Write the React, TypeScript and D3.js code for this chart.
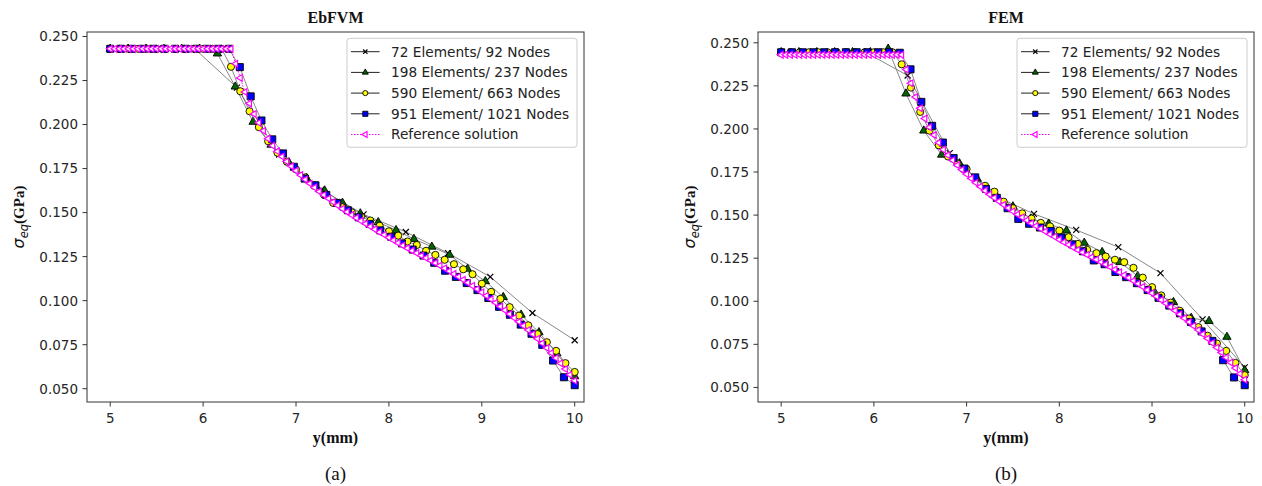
import React from "react";
import * as d3 from "d3";

const W = 1262;
const H = 486;

const xTicks = [5, 6, 7, 8, 9, 10];
const yTicks = [0.05, 0.075, 0.1, 0.125, 0.15, 0.175, 0.2, 0.225, 0.25];
const xLimits = [4.75, 10.1];
const seriesLabels = [
  "72 Elements/ 92 Nodes",
  "198 Elements/ 237 Nodes",
  "590 Element/ 663 Nodes",
  "951 Element/ 1021 Nodes",
  "Reference solution",
];

const x72 = [5, 5.455, 5.909, 6.364, 6.818, 7.273, 7.727, 8.182, 8.636, 9.091, 9.545, 10];
const ebfvm72 = [0.243, 0.243, 0.243, 0.221, 0.183, 0.163, 0.149, 0.139, 0.127, 0.1135, 0.093, 0.0775];
const fem72 = [0.2445, 0.2445, 0.2445, 0.231, 0.186, 0.162, 0.1507, 0.1414, 0.1314, 0.1163, 0.0895, 0.0616];

const x198 = [5, 5.192, 5.385, 5.577, 5.769, 5.962, 6.154, 6.346, 6.538, 6.731, 6.923, 7.115, 7.308, 7.5, 7.692, 7.885, 8.077, 8.269, 8.462, 8.654, 8.846, 9.038, 9.231, 9.423, 9.615, 9.808, 10];
const ebfvm198 = [0.243, 0.243, 0.243, 0.243, 0.243, 0.243, 0.2403, 0.2215, 0.2015, 0.1885, 0.1785, 0.1695, 0.1625, 0.1555, 0.1495, 0.1445, 0.14, 0.135, 0.1306, 0.126, 0.118, 0.111, 0.102, 0.092, 0.082, 0.07, 0.057];
const fem198 = [0.2445, 0.2445, 0.2445, 0.2445, 0.2445, 0.2445, 0.2465, 0.2205, 0.199, 0.185, 0.18, 0.171, 0.1625, 0.155, 0.148, 0.145, 0.141, 0.1339, 0.1285, 0.1227, 0.1146, 0.1044, 0.0995, 0.0903, 0.0885, 0.0793, 0.06];

const x590 = [5, 5.1, 5.2, 5.3, 5.4, 5.5, 5.6, 5.7, 5.8, 5.9, 6, 6.1, 6.2, 6.3, 6.4, 6.5, 6.6, 6.7, 6.8, 6.9, 7, 7.1, 7.2, 7.3, 7.4, 7.5, 7.6, 7.7, 7.8, 7.9, 8, 8.1, 8.2, 8.3, 8.4, 8.5, 8.6, 8.7, 8.8, 8.9, 9, 9.1, 9.2, 9.3, 9.4, 9.5, 9.6, 9.7, 9.8, 9.9, 10];
const ebfvm590 = [0.243, 0.243, 0.243, 0.243, 0.243, 0.243, 0.243, 0.243, 0.243, 0.243, 0.243, 0.243, 0.243,
  0.2328, 0.2189, 0.2075, 0.1985, 0.1905, 0.184, 0.179, 0.1745,
  0.17, 0.1655, 0.1602, 0.1555, 0.153, 0.1502, 0.1478, 0.1455, 0.1425,
  0.1394, 0.1369, 0.1336, 0.1316, 0.1283, 0.126, 0.1232, 0.1207, 0.1178, 0.115,
  0.1096, 0.105, 0.101, 0.0963, 0.0915, 0.086, 0.081, 0.0764, 0.0715, 0.0645, 0.0595];
const fem590 = [0.2445, 0.2445, 0.2445, 0.2445, 0.2445, 0.2445, 0.2445, 0.2445, 0.2445, 0.2445, 0.2445, 0.2445, 0.2445,
  0.2375, 0.224, 0.2099, 0.199, 0.1905, 0.184, 0.18, 0.1767,
  0.171, 0.167, 0.1636, 0.1578, 0.154, 0.151, 0.148, 0.1455, 0.1435,
  0.141, 0.1372, 0.1333, 0.1299, 0.1279, 0.126, 0.1241, 0.1227, 0.1194, 0.1137,
  0.1082, 0.1034, 0.0992, 0.0945, 0.09, 0.085, 0.08, 0.0755, 0.0712, 0.0642, 0.0571];

const x951 = [5, 5.116, 5.233, 5.349, 5.465, 5.581, 5.698, 5.814, 5.93, 6.047, 6.163, 6.279, 6.395, 6.512, 6.628, 6.744, 6.86, 6.977, 7.093, 7.209, 7.326, 7.442, 7.558, 7.674, 7.791, 7.907, 8.023, 8.14, 8.256, 8.372, 8.488, 8.605, 8.721, 8.837, 8.953, 9.07, 9.186, 9.302, 9.419, 9.535, 9.651, 9.767, 9.884, 10];
const ebfvm951 = [0.243, 0.243, 0.243, 0.243, 0.243, 0.243, 0.243, 0.243, 0.243, 0.243, 0.243, 0.243,
  0.2326, 0.216, 0.2023, 0.1916, 0.1836, 0.176, 0.1693, 0.1655, 0.16, 0.1555,
  0.1513, 0.1473, 0.1436, 0.1399, 0.1363, 0.1325, 0.129, 0.1256, 0.1215, 0.117,
  0.1135, 0.11, 0.106, 0.1015, 0.0965, 0.092, 0.0864, 0.0812, 0.0749, 0.066, 0.0565, 0.052];
const fem951 = [0.2445, 0.2445, 0.2445, 0.2445, 0.2445, 0.2445, 0.2445, 0.2445, 0.2445, 0.2445, 0.2445, 0.2442,
  0.2346, 0.2157, 0.2018, 0.1921, 0.1831, 0.177, 0.1719, 0.1652, 0.16, 0.154,
  0.1478, 0.145, 0.1428, 0.1408, 0.137, 0.133, 0.129, 0.1237, 0.1215, 0.117,
  0.114, 0.1105, 0.1065, 0.102, 0.0975, 0.093, 0.088, 0.0825, 0.077, 0.0658, 0.0558, 0.0513];

const xRef = [5, 5.05, 5.1, 5.15, 5.2, 5.25, 5.3, 5.35, 5.4, 5.45, 5.5, 5.55, 5.6, 5.65, 5.7, 5.75, 5.8, 5.85, 5.9, 5.95,
  6, 6.05, 6.1, 6.15, 6.2, 6.25, 6.3, 6.35, 6.4, 6.45, 6.5, 6.55, 6.6, 6.65, 6.7, 6.75, 6.8, 6.85, 6.9, 6.95,
  7, 7.05, 7.1, 7.15, 7.2, 7.25, 7.3, 7.35, 7.4, 7.45, 7.5, 7.55, 7.6, 7.65, 7.7, 7.75, 7.8, 7.85, 7.9, 7.95,
  8, 8.05, 8.1, 8.15, 8.2, 8.25, 8.3, 8.35, 8.4, 8.45, 8.5, 8.55, 8.6, 8.65, 8.7, 8.75, 8.8, 8.85, 8.9, 8.95,
  9, 9.05, 9.1, 9.15, 9.2, 9.25, 9.3, 9.35, 9.4, 9.45, 9.5, 9.55, 9.6, 9.65, 9.7, 9.75, 9.8, 9.85, 9.9, 9.95, 10];
const refValues = [0.243, 0.243, 0.243, 0.243, 0.243, 0.243, 0.243, 0.243, 0.243, 0.243, 0.243, 0.243, 0.243, 0.243,
  0.243, 0.243, 0.243, 0.243, 0.243, 0.243, 0.243, 0.243, 0.243, 0.243, 0.243, 0.243, 0.243,
  0.2345, 0.2265, 0.2185, 0.212, 0.206, 0.201, 0.1965, 0.192, 0.188, 0.1848, 0.1818, 0.179, 0.1763, 0.1738,
  0.1713, 0.1688, 0.1665, 0.1642, 0.162, 0.16, 0.158, 0.156, 0.1541, 0.1522,
  0.1504, 0.1487, 0.147, 0.1453, 0.1437, 0.1421, 0.1405, 0.1389, 0.1374, 0.1358,
  0.1343, 0.1328, 0.1313, 0.1298, 0.1284, 0.127, 0.1256, 0.1242, 0.1228, 0.1214,
  0.1199, 0.1184, 0.1168, 0.1152, 0.1136, 0.1119, 0.1102, 0.1084, 0.1066, 0.1047,
  0.1028, 0.1008, 0.0988, 0.0967, 0.0946, 0.0924, 0.0902, 0.088, 0.0857, 0.0833,
  0.0809, 0.0784, 0.0758, 0.0731, 0.0703, 0.0674, 0.0644, 0.0612, 0.0579, 0.0545];

type Kind = "x" | "tri" | "circle" | "square" | "left";

const styles: { kind: Kind; fill: string; stroke: string; line: string; dash?: string }[] = [
  { kind: "x", fill: "none", stroke: "#000", line: "#6a6a6a" },
  { kind: "tri", fill: "#006400", stroke: "#000", line: "#6a6a6a" },
  { kind: "circle", fill: "#ffff00", stroke: "#000", line: "#6a6a6a" },
  { kind: "square", fill: "#0000ff", stroke: "#000", line: "#6a6a6a" },
  { kind: "left", fill: "#ffffff", stroke: "#ff00ff", line: "#ff00ff", dash: "1.5,1.5" },
];

function markerPath(kind: Kind, scale: number): string {
  if (kind === "x") {
    const s = 3 * scale;
    return `M${-s},${-s}L${s},${s}M${-s},${s}L${s},${-s}`;
  }
  if (kind === "tri") return d3.symbol(d3.symbolTriangle, 30 * scale * scale)() as string;
  if (kind === "circle") return d3.symbol(d3.symbolCircle, 40 * scale * scale)() as string;
  if (kind === "square") return d3.symbol(d3.symbolSquare, 50 * scale * scale)() as string;
  return d3.symbol(d3.symbolTriangle, 19 * scale * scale)() as string;
}

function Marker({ kind, x, y, fill, stroke, scale }: any) {
  const rot = kind === "left" ? ` rotate(-90)` : "";
  return (
    <path
      d={markerPath(kind, scale)}
      transform={`translate(${x},${y})${rot}`}
      fill={fill}
      stroke={stroke}
      strokeWidth={kind === "x" ? 1.2 : kind === "left" ? 1.15 : 0.9}
    />
  );
}

const tickFont = "'DejaVu Sans', Verdana, sans-serif";
const serif = "'Liberation Serif', 'Times New Roman', serif";

function Panel({ left, right, top, bottom, title, letter, data }: any) {
  const xs = [x72, x198, x590, x951, xRef];
  const all = ([] as number[]).concat(...data);
  const [mn, mx] = d3.extent(all) as [number, number];
  const pad = (mx - mn) * 0.05;
  const x = d3.scaleLinear().domain(xLimits).range([left, right]);
  const y = d3.scaleLinear().domain([mn - pad, mx + pad]).range([bottom, top]);
  const line = d3.line<[number, number]>().x((d) => x(d[0])).y((d) => y(d[1]));
  const cx = (left + right) / 2;
  const cy = (top + bottom) / 2;

  const lgW = 230;
  const lgH = 109;
  const lgX = right - 7 - lgW;
  const lgY = top + 6.3;
  const rowStep = 20.7;

  return (
    <g>
      <text x={cx} y={top - 9} textAnchor="middle" fontFamily={serif} fontWeight="bold" fontSize={16} fill="#111">
        {title}
      </text>
      {data.map((ys: number[], si: number) => {
        const st = styles[si];
        const pts = xs[si].map((xv: number, i: number) => [xv, ys[i]] as [number, number]);
        return (
          <g key={si}>
            <path d={line(pts) as string} fill="none" stroke={st.line} strokeWidth={si === 4 ? 1 : 0.8} strokeDasharray={st.dash} />
            {pts.map((p, i) => (
              <Marker key={i} kind={st.kind} x={x(p[0])} y={y(p[1])} fill={st.fill} stroke={st.stroke} scale={1} />
            ))}
          </g>
        );
      })}
      <rect x={left} y={top} width={right - left} height={bottom - top} fill="none" stroke="#333" strokeWidth={1} />
      {xTicks.map((t) => (
        <g key={t}>
          <line x1={x(t)} x2={x(t)} y1={bottom} y2={bottom + 4.5} stroke="#333" />
          <text x={x(t)} y={bottom + 21} textAnchor="middle" fontFamily={tickFont} fontSize={13.5} fill="#262626">
            {t}
          </text>
        </g>
      ))}
      {yTicks.map((t) => (
        <g key={t}>
          <line x1={left - 4.5} x2={left} y1={y(t)} y2={y(t)} stroke="#333" />
          <text x={left - 9} y={y(t) + 4.9} textAnchor="end" fontFamily={tickFont} fontSize={13.5} fill="#262626">
            {t.toFixed(3)}
          </text>
        </g>
      ))}
      <text x={cx} y={bottom + 41} textAnchor="middle" fontFamily={serif} fontWeight="bold" fontSize={16} fill="#111">
        y(mm)
      </text>
      <text x={cx} y={480} textAnchor="middle" fontFamily={serif} fontSize={19} fill="#111">
        {letter}
      </text>
      <text transform={`translate(${left - 63},${cy}) rotate(-90)`} textAnchor="middle" fill="#111">
        <tspan fontFamily={tickFont} fontStyle="italic" fontSize={16}>σ</tspan>
        <tspan fontFamily={tickFont} fontStyle="italic" fontSize={11.5} dy={3.5}>eq</tspan>
        <tspan fontFamily={serif} fontWeight="bold" fontSize={15} dy={-3.5}>(GPa)</tspan>
      </text>
      <rect x={lgX} y={lgY} width={lgW} height={lgH} rx={3} fill="#fff" fillOpacity={0.8} stroke="#ccc" strokeWidth={1} />
      {seriesLabels.map((lab, i) => {
        const st = styles[i];
        const ry = lgY + 13.4 + i * rowStep;
        return (
          <g key={lab}>
            <line x1={lgX + 4} x2={lgX + 32.6} y1={ry} y2={ry} stroke={i === 4 ? "#ff00ff" : "#222"} strokeWidth={1} strokeDasharray={st.dash} />
            <Marker kind={st.kind} x={lgX + 18.3} y={ry} fill={st.fill} stroke={st.stroke} scale={i === 4 ? 0.9 : 0.72} />
            <text x={lgX + 44} y={ry + 4.9} fontFamily={tickFont} fontSize={13.7} fill="#222">
              {lab}
            </text>
          </g>
        );
      })}
    </g>
  );
}

export default function App() {
  return (
    <svg
      width={W}
      height={H}
      viewBox={`0 0 ${W} ${H}`}
      style={{ position: "absolute", left: 0, top: 0, background: "#fff", display: "block" }}
    >
      <rect x={0} y={0} width={W} height={H} fill="#fff" />
      <Panel
        left={87}
        right={584}
        top={32}
        bottom={402}
        title="EbFVM"
        letter="(a)"
        data={[ebfvm72, ebfvm198, ebfvm590, ebfvm951, refValues]}
      />
      <Panel
        left={758}
        right={1254}
        top={32}
        bottom={402}
        title="FEM"
        letter="(b)"
        data={[fem72, fem198, fem590, fem951, refValues]}
      />
    </svg>
  );
}
